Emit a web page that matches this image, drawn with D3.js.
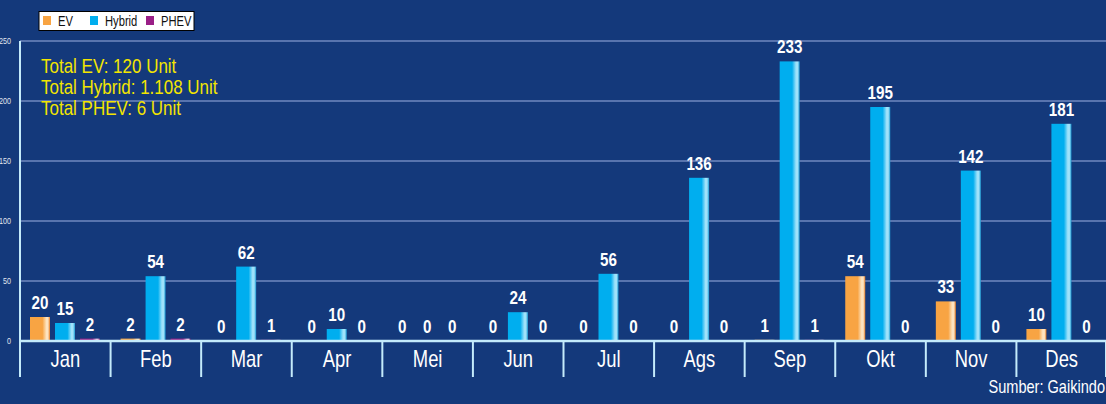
<!DOCTYPE html>
<html>
<head>
<meta charset="utf-8">
<script src="https://cdn.jsdelivr.net/npm/d3@7"></script>
<style>
  html, body { margin: 0; padding: 0; background: #14397b; overflow: hidden; }
  text { font-family: "Liberation Sans", Arial, sans-serif; }
  .narrow { font-family: "Liberation Sans Narrow", "Liberation Sans", Arial, sans-serif; }
</style>
</head>
<body>
<div id="chart"></div>
<script>
// data
var months = ["Jan", "Feb", "Mar", "Apr", "Mei", "Jun", "Jul", "Ags", "Sep", "Okt", "Nov", "Des"];
var seriesNames = ["EV", "Hybrid", "PHEV"];
var evValues     = [20, 2, 0, 0, 0, 0, 0, 0, 1, 54, 33, 10];
var hybridValues = [15, 54, 62, 10, 0, 24, 56, 136, 233, 195, 142, 181];
var phevValues   = [2, 2, 1, 0, 0, 0, 0, 0, 1, 0, 0, 0];
var yTicks = [0, 50, 100, 150, 200, 250];
var totalLines = ["Total EV: 120 Unit", "Total Hybrid: 1.108 Unit", "Total PHEV: 6 Unit"];
var sourceText = "Sumber: Gaikindo";

var width = 1106, height = 404;
var squeeze = 0.8; // the original text is a bit squashed sideways

var svg = d3.select("#chart").append("svg")
  .attr("width", width)
  .attr("height", height);

svg.append("rect").attr("width", width).attr("height", height).attr("fill", "#14397b");

var x0 = d3.scaleBand().domain(months).range([20, 1107]);
var x1 = d3.scaleBand().domain(seriesNames).range([10, 80]).paddingInner(0.2);
var y = d3.scaleLinear().domain([0, 250]).range([341, 41]);

// gradients for the shiny bars
var colors = {
  EV:     ["#f8a443", "#f8a443", "#fde3c0", "#e57a21"],
  Hybrid: ["#00aeef", "#00aeef", "#9fe2fa", "#1b98d2"],
  PHEV:   ["#9a1f87", "#9a1f87", "#e9b8de", "#7a1469"]
};
var defs = svg.append("defs");
seriesNames.forEach(function(k) {
  var g = defs.append("linearGradient").attr("id", "grad-" + k)
    .attr("x1", "0%").attr("x2", "100%").attr("y1", "0%").attr("y2", "0%");
  g.append("stop").attr("offset", "0%").attr("stop-color", colors[k][0]);
  g.append("stop").attr("offset", "62%").attr("stop-color", colors[k][1]);
  g.append("stop").attr("offset", "82%").attr("stop-color", colors[k][2]);
  g.append("stop").attr("offset", "90%").attr("stop-color", colors[k][2]);
  g.append("stop").attr("offset", "100%").attr("stop-color", colors[k][3]);
});

// gridlines
svg.append("g").selectAll("line")
  .data(yTicks.filter(function(d) { return d > 0; }))
  .enter().append("line")
  .attr("x1", 20).attr("x2", width)
  .attr("y1", function(d) { return y(d); })
  .attr("y2", function(d) { return y(d); })
  .attr("stroke", "#6f88bf")
  .attr("stroke-width", 1.3);

// y tick labels (partly cut at the left edge, as in the original)
svg.append("g").selectAll("text")
  .data(yTicks)
  .enter().append("text")
  .attr("transform", function(d) { return "translate(11," + (y(d) + 3) + ") scale(" + squeeze + ",1)"; })
  .attr("text-anchor", "end")
  .attr("font-size", 9)
  .attr("fill", "#e2e6ef")
  .text(function(d) { return d; });

// bars
var table = months.map(function(m, i) {
  return { month: m, values: [
    { key: "EV", value: evValues[i] },
    { key: "Hybrid", value: hybridValues[i] },
    { key: "PHEV", value: phevValues[i] }
  ] };
});

var groups = svg.append("g").selectAll("g")
  .data(table)
  .enter().append("g")
  .attr("transform", function(d) { return "translate(" + x0(d.month) + ",0)"; });

groups.selectAll("rect")
  .data(function(d) { return d.values; })
  .enter().append("rect")
  .attr("x", function(d) { return x1(d.key); })
  .attr("width", x1.bandwidth())
  .attr("y", function(d) { return y(d.value); })
  .attr("height", function(d) { return y(0) - y(d.value); })
  .attr("fill", function(d) { return "url(#grad-" + d.key + ")"; });

groups.selectAll("text")
  .data(function(d) { return d.values; })
  .enter().append("text")
  .attr("class", "narrow")
  .attr("transform", function(d) {
    return "translate(" + (x1(d.key) + x1.bandwidth() / 2) + "," + (y(d.value) - 8) + ") scale(" + squeeze + ",1)";
  })
  .attr("text-anchor", "middle")
  .attr("font-size", 19)
  .attr("font-weight", "bold")
  .attr("fill", "#ffffff")
  .text(function(d) { return d.value; });

// axes
var axisColor = "#c4ebfb";
svg.append("line")
  .attr("x1", 20).attr("x2", width)
  .attr("y1", y(0)).attr("y2", y(0))
  .attr("stroke", axisColor).attr("stroke-width", 2.5);
svg.append("line")
  .attr("x1", 20).attr("x2", 20)
  .attr("y1", y(250)).attr("y2", 377)
  .attr("stroke", axisColor).attr("stroke-width", 2);

var bounds = months.map(function(m) { return x0(m); }).concat([x0.range()[1] - 1]);
svg.append("g").selectAll("line")
  .data(bounds.slice(1))
  .enter().append("line")
  .attr("x1", function(d) { return d; }).attr("x2", function(d) { return d; })
  .attr("y1", y(0)).attr("y2", 377)
  .attr("stroke", axisColor).attr("stroke-width", 2);

svg.append("g").selectAll("text")
  .data(months)
  .enter().append("text")
  .attr("transform", function(d) { return "translate(" + (x0(d) + x0.bandwidth() / 2) + ",367) scale(" + squeeze + ",1)"; })
  .attr("text-anchor", "middle")
  .attr("font-size", 23)
  .attr("fill", "#ffffff")
  .text(function(d) { return d; });

// totals
svg.append("g").selectAll("text")
  .data(totalLines)
  .enter().append("text")
  .attr("transform", function(d, i) { return "translate(41," + (73 + i * 21) + ") scale(0.85,1)"; })
  .attr("font-size", 20)
  .attr("fill", "#f3e500")
  .text(function(d) { return d; });

// source
svg.append("text")
  .attr("transform", "translate(1105,393) scale(0.81,1)")
  .attr("text-anchor", "end")
  .attr("font-size", 18)
  .attr("fill", "#ffffff")
  .text(sourceText);

// legend
var legend = svg.append("g");
legend.append("rect")
  .attr("x", 39).attr("y", 11.5).attr("width", 155).attr("height", 19)
  .attr("fill", "#ffffff").attr("stroke", "#000000").attr("stroke-width", 1);
var legX = [43, 90, 146];
var legendItems = legend.selectAll("g")
  .data(seriesNames)
  .enter().append("g")
  .attr("transform", function(d, i) { return "translate(" + legX[i] + ",16)"; });
legendItems.append("rect")
  .attr("width", 8).attr("height", 9)
  .attr("fill", function(d) { return colors[d][0]; });
legendItems.append("text")
  .attr("class", "narrow")
  .attr("transform", "translate(15,10) scale(" + squeeze + ",1)")
  .attr("font-size", 14)
  .attr("fill", "#111111")
  .text(function(d) { return d; });
</script>
</body>
</html>
